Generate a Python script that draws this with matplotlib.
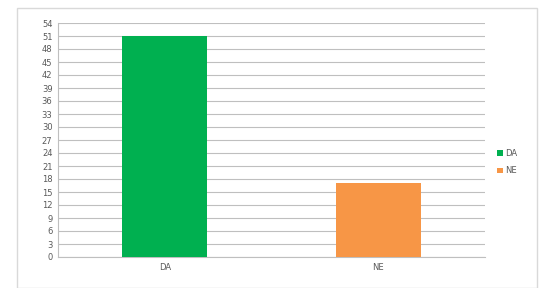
import matplotlib.pyplot as plt
from matplotlib.patches import Rectangle

categories = ['DA', 'NE']
values = [51, 17]
colors = ['#00b050', '#f79646']
yticks = list(range(0, 55, 3))

fig = plt.figure(figsize=(5.4, 2.88), dpi=100)
fig.patches.append(Rectangle((17 / 540, 0.0), 520 / 540, 1 - 8 / 288, transform=fig.transFigure,
                             fill=False, edgecolor='#d9d9d9', linewidth=1))
ax = fig.add_axes([58 / 540, 1 - 257 / 288, 427 / 540, 234 / 288])

bars = ax.bar(range(len(categories)), values, width=0.4, color=colors, zorder=3)
ax.set_xlim(-0.5, 1.5)
ax.set_ylim(0, 54)
ax.set_yticks(yticks)
ax.set_yticklabels([str(t) for t in yticks], fontsize=6, color='#595959')
ax.set_xticks(range(len(categories)))
ax.set_xticklabels(categories, fontsize=6, color='#595959')
ax.tick_params(axis='both', length=0, pad=4)
ax.grid(axis='y', color='#bfbfbf', linewidth=0.8, zorder=0)
for s in ['top', 'right']:
    ax.spines[s].set_visible(False)
ax.spines['left'].set_color('#bfbfbf')
ax.spines['bottom'].set_color('#bfbfbf')

ax.legend(bars, categories, loc='center left', bbox_to_anchor=(1.01, 0.405), frameon=False,
          fontsize=6, handlelength=0.7, handleheight=0.7, handletextpad=0.3,
          labelcolor='#595959', labelspacing=1.0)

fig.savefig('out.png', dpi=100)
